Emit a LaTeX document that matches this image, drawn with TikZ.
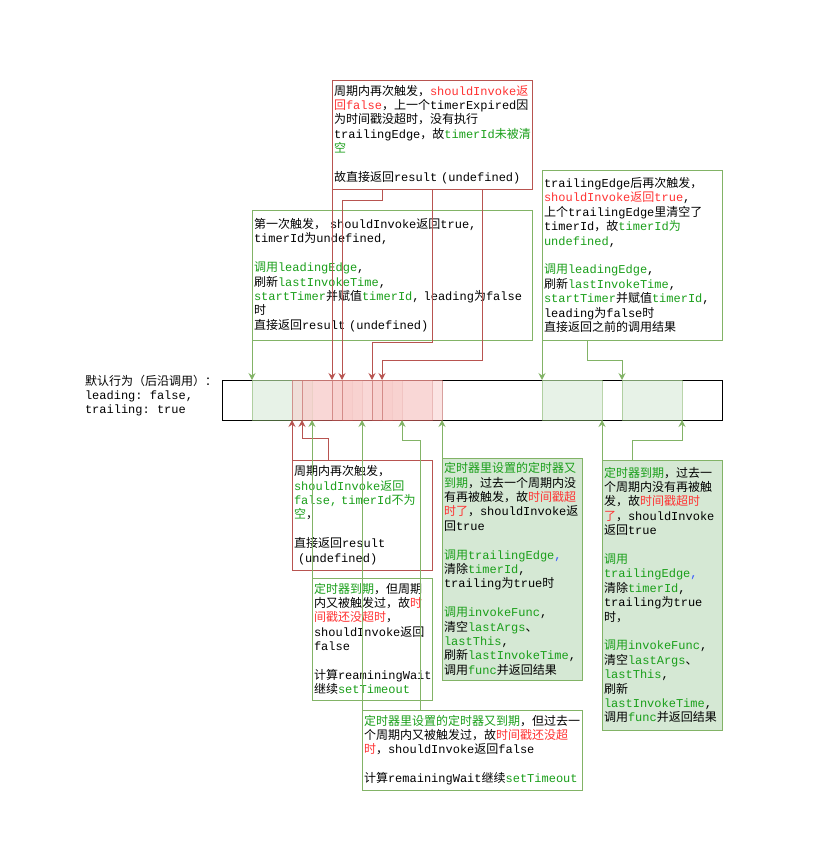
\documentclass[tikz,border=0pt]{standalone}
\usepackage{fontspec}
\setmainfont{Noto Sans CJK SC}
\setmonofont{Liberation Mono}
\usetikzlibrary{arrows.meta,calc}
\definecolor{gstroke}{HTML}{82B366}
\definecolor{rstroke}{HTML}{B85450}
\definecolor{gfill}{HTML}{D5E8D4}
\definecolor{rfill}{HTML}{F8CECC}
\definecolor{tred}{HTML}{FF3333}
\definecolor{tgreen}{HTML}{1A9F1A}
\definecolor{tblue}{HTML}{3355FF}
\newcommand\mm[1]{\mbox{\ttfamily #1}}
\newcommand\redt[1]{\textcolor{tred}{#1}}
\newcommand\grnt[1]{\textcolor{tgreen}{#1}}
\newcommand\blut[1]{\textcolor{tblue}{#1}}
\begin{document}
\begin{tikzpicture}[x=1pt,y=-1pt,line width=1pt,
  every node/.style={outer sep=0pt},
  txt/.style={font=\fontsize{12}{14.4}\selectfont},
  tbox/.style={txt,align=left,inner xsep=2pt,inner ysep=0pt,fill=white},
  rbox/.style={tbox,draw=rstroke},
  gbox/.style={tbox,draw=gstroke},
  gboxf/.style={tbox,draw=gstroke,fill=gfill},
  seg/.style={anchor=north west,minimum width=60pt,minimum height=40pt,inner sep=0pt},
  gseg/.style={seg,fill=gfill,fill opacity=0.55,draw=gstroke,draw opacity=0.55},
  rseg/.style={seg,fill=rfill,fill opacity=0.55,draw=rstroke,draw opacity=0.55},
  arr/.style={-{Stealth[length=7pt,width=7pt,inset=2.5pt]}},
  rarr/.style={draw=rstroke,arr},
  garr/.style={draw=gstroke,arr}]
\useasboundingbox (0,0) rectangle (815,841);

% left label
\node[txt,align=left,inner sep=0pt,anchor=west] (lbl) at (85,395.5)
 {默认行为（后沿调用）：\\
  \mm{leading: false,}\\
  \mm{trailing: true}};

% timeline bar
\node[draw=black,fill=white,anchor=north west,minimum width=500pt,minimum height=40pt,inner sep=0pt] (bar) at (222,380) {};
\node[gseg] (g1) at (252,380) {};
\node[rseg] (r1) at (292,380) {};
\node[rseg] (r2) at (302,380) {};
\node[rseg] (r3) at (332,380) {};
\node[rseg] (r4) at (342,380) {};
\node[rseg] (r5) at (372,380) {};
\node[rseg] (r6) at (382,380) {};
\node[gseg] (g2) at (542,380) {};
\node[gseg] (g3) at (622,380) {};

% top red box
\node[rbox,minimum width=200pt,minimum height=109pt,text width=196pt] (rtop) at (432,134.5)
 {周期内再次触发，\redt{\mm{shouldInvoke}返}\\
  \redt{回\mm{false}}，上一个\mm{timerExpired}因\\
  为时间戳没超时，没有执行\\
  \mm{trailingEdge}，故\grnt{\mm{timerId}未被清}\\
  \grnt{空}\\[14.4pt]
  故直接返回\mm{result (undefined)}};

% left top green box
\node[gbox,minimum width=280pt,minimum height=130pt,text width=276pt] (gl) at (392,275)
 {第一次触发，\mm{ shouldInvoke}返回\mm{true,}\\
  \mm{timerId}为\mm{undefined,}\\[14.4pt]
  \grnt{调用\mm{leadingEdge}}\mm{,}\\
  刷新\grnt{\mm{lastInvokeTime}}\mm{,}\\
  \grnt{\mm{startTimer}}并赋值\grnt{\mm{timerId}}\mm{, leading}为\mm{false}\\
  时\\
  直接返回\mm{result (undefined)}};

% right top green box
\node[gbox,minimum width=180pt,minimum height=170pt,text width=176pt] (gr) at (632,255)
 {\mm{trailingEdge}后再次触发，\\
  \redt{\mm{shouldInvoke}返回\mm{true}}\mm{,}\\
  上个\mm{trailingEdge}里清空了\\
  \mm{timerId}，故\grnt{\mm{timerId}为}\\
  \grnt{\mm{undefined}}\mm{,}\\[14.4pt]
  \grnt{调用\mm{leadingEdge}}\mm{,}\\
  刷新\grnt{\mm{lastInvokeTime}}\mm{,}\\
  \grnt{\mm{startTimer}}并赋值\grnt{\mm{timerId}}\mm{,}\\
  \mm{leading}为\mm{false}时\\
  直接返回之前的调用结果};

% bottom red box
\node[rbox,minimum width=140pt,minimum height=110pt,text width=136pt] (rb) at (362,515)
 {周期内再次触发，\\
  \grnt{\mm{shouldInvoke}返回}\\
  \grnt{\mm{false, timerId}不为}\\
  \grnt{空}，\\[14.4pt]
  直接返回\mm{result}\\
  \mm{ (undefined)}};

% green box A
\node[gbox,minimum width=120pt,minimum height=122pt,text width=116pt] (ga) at (372,639)
 {\grnt{定时器到期}，但周期\\
  内又被触发过，故\redt{时}\\
  \redt{间戳还没超时}，\\
  \mm{shouldInvoke}返回\\
  \mm{false}\\[14.4pt]
  计算\mm{reaminingWait}\\
  继续\grnt{\mm{setTimeout}}};

% green box B
\node[gboxf,minimum width=140pt,minimum height=222pt,text width=136pt] (gb) at (512,569)
 {\grnt{定时器里设置的定时器又}\\
  \grnt{到期}，过去一个周期内没\\
  有再被触发，故\redt{时间戳超}\\
  \redt{时了}，\mm{shouldInvoke}返\\
  回\mm{true}\\[14.4pt]
  \grnt{调用\mm{trailingEdge}}\blut{\mm{,}}\\
  清除\grnt{\mm{timerId}}\mm{,}\\
  \mm{trailing}为\mm{true}时\\[14.4pt]
  \grnt{调用\mm{invokeFunc}}\mm{,}\\
  清空\grnt{\mm{lastArgs}}、\\
  \grnt{\mm{lastThis}}\mm{,}\\
  刷新\grnt{\mm{lastInvokeTime}}\mm{,}\\
  调用\grnt{\mm{func}}并返回结果};

% green box C
\node[gboxf,minimum width=120pt,minimum height=270pt,text width=116pt] (gc) at (662,595)
 {\grnt{定时器到期}，过去一\\
  个周期内没有再被触\\
  发，故\redt{时间戳超时}\\
  \redt{了}，\mm{shouldInvoke}\\
  返回\mm{true}\\[14.4pt]
  \grnt{调用}\\
  \grnt{\mm{trailingEdge}}\blut{\mm{,}}\\
  清除\grnt{\mm{timerId}}\mm{,}\\
  \mm{trailing}为\mm{true}\\
  时，\\[14.4pt]
  \grnt{调用\mm{invokeFunc}}\mm{,}\\
  清空\grnt{\mm{lastArgs}}、\\
  \grnt{\mm{lastThis}}\mm{,}\\
  刷新\\
  \grnt{\mm{lastInvokeTime}}\mm{,}\\
  调用\grnt{\mm{func}}并返回结果};

% green box D
\node[gbox,minimum width=220pt,minimum height=80pt,text width=216pt] (gd) at (472,750)
 {\grnt{定时器里设置的定时器又到期}，但过去一\\
  个周期内又被触发过，故\redt{时间戳还没超}\\
  \redt{时}，\mm{shouldInvoke}返回\mm{false}\\[14.4pt]
  计算\mm{remainingWait}继续\grnt{\mm{setTimeout}}};

% connectors from top
\draw[garr] (gl.south west) -- (g1.north west);
\draw[rarr] (rtop.south west) -- (r3.north west);
\draw[rarr] (r6.north west |- rtop.south) -- ++(0,11) -| (r4.north west);
\draw[rarr] (r5.north east |- rtop.south) -- ++(0,153) -| (r5.north west);
\draw[rarr] ($(rtop.south west)+(150,0)$) -- ++(0,171) -| (r6.north west);
\draw[garr] (gr.south west) -- (g2.north west);
\draw[garr] ($(gr.south west)+(45,0)$) -- ++(0,20) -| (g3.north west);

% connectors from bottom
\draw[rarr] (rb.north west) -- (r1.south west);
\draw[rarr] ($(rb.north west)+(36,0)$) -- ++(0,-22) -| (r2.south west);
\draw[garr] (ga.north west) -- (g1.south east);
\draw[garr] (gd.north west) -- (r2.south east);
\draw[garr] ($(gd.north west)+(58,0)$) -- ++(0,-270) -| (r4.south east);
\draw[garr] (gb.north west) -- (r6.south east);
\draw[garr] (gc.north west) -- (g2.south east);
\draw[garr] ($(gc.north west)+(30,0)$) -- ++(0,-20) -| (g3.south east);
\end{tikzpicture}
\end{document}
